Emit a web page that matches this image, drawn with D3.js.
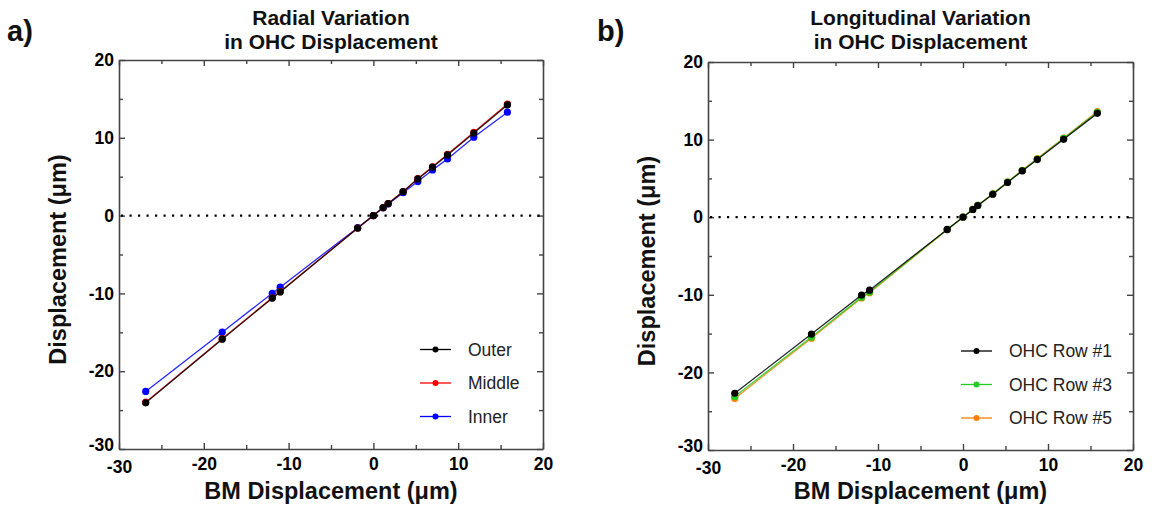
<!DOCTYPE html>
<html><head><meta charset="utf-8">
<script src="https://cdn.jsdelivr.net/npm/d3@7"></script>
<style>
body{margin:0;background:#fff;}
svg{display:block;font-family:"Liberation Sans",Arial,sans-serif;}
</style></head>
<body><svg id="c" width="1153" height="508"></svg>
<script>
const bmDisp = [-26.85, -17.83, -11.93, -10.99, -1.86, 0, 1.15, 1.74, 3.5, 5.24, 6.97, 8.74, 11.84, 15.8];
const outer  = [-24.07, -15.89, -10.62, -9.81, -1.62, 0, 1.03, 1.54, 3.08, 4.72, 6.22, 7.80, 10.62, 14.23];
const middle = [-23.98, -15.82, -10.56, -9.76, -1.60, 0, 1.03, 1.55, 3.10, 4.76, 6.28, 7.88, 10.70, 14.33];
const inner  = [-22.60, -14.99, -9.98, -9.20, -1.55, 0, 1.00, 1.50, 2.95, 4.37, 5.87, 7.29, 10.08, 13.29];
const row1 = [-22.69, -15.06, -10.04, -9.40, -1.58, 0, 0.99, 1.50, 2.96, 4.47, 5.96, 7.43, 10.04, 13.38];
const row3 = [-23.10, -15.45, -10.30, -9.65, -1.60, 0, 1.00, 1.52, 3.00, 4.52, 6.02, 7.50, 10.15, 13.52];
const row5 = [-23.35, -15.60, -10.40, -9.72, -1.62, 0, 1.01, 1.53, 3.02, 4.55, 6.05, 7.55, 10.20, 13.62];
const majorTicks = [-30, -20, -10, 0, 10, 20];
const minorTicks = [-25, -15, -5, 5, 15];
const titlesA = ["Radial Variation", "in OHC Displacement"];
const titlesB = ["Longitudinal Variation", "in OHC Displacement"];
const xLabel = "BM Displacement (\u03bcm)";
const yLabel = "Displacement (\u03bcm)";

const svg = d3.select("#c");
const fmt = d => String(d);

function panel(opt){
  const g = svg.append("g");
  const x = d3.scaleLinear().domain([-30,20]).range([opt.x0, opt.x1]);
  const y = d3.scaleLinear().domain([-30,20]).range([opt.y1, opt.y0]);
  const axCol = "#444";
  function styleAx(sel){
    sel.selectAll("path.domain").attr("stroke",axCol).attr("stroke-width",1.6);
    sel.selectAll(".tick line").attr("stroke",axCol).attr("stroke-width",1.4);
    sel.attr("font-family",null).attr("font-size",null);
    sel.selectAll(".tick text")
      .style("font-family","'Liberation Sans', Arial, sans-serif")
      .style("font-weight","700").style("font-size","17.5px").style("fill","#000");
  }
  const b = g.append("g").attr("transform",`translate(0,${opt.y1})`)
    .call(d3.axisBottom(x).tickValues(majorTicks).tickSize(-6).tickSizeOuter(0).tickPadding(9).tickFormat(fmt));
  styleAx(b);
  g.append("g").attr("transform",`translate(0,${opt.y1})`)
    .call(d3.axisBottom(x).tickValues(minorTicks).tickSize(-4).tickFormat("")).call(s=>{s.select(".domain").remove();styleAx(s);});
  const t = g.append("g").attr("transform",`translate(0,${opt.y0})`)
    .call(d3.axisTop(x).tickValues(majorTicks).tickSize(-6).tickSizeOuter(0).tickFormat(""));
  styleAx(t);
  g.append("g").attr("transform",`translate(0,${opt.y0})`)
    .call(d3.axisTop(x).tickValues(minorTicks).tickSize(-4).tickFormat("")).call(s=>{s.select(".domain").remove();styleAx(s);});
  const l = g.append("g").attr("transform",`translate(${opt.x0},0)`)
    .call(d3.axisLeft(y).tickValues(majorTicks).tickSize(-6).tickSizeOuter(0).tickPadding(5).tickFormat(fmt));
  styleAx(l);
  l.selectAll(".tick text").filter(d=>d===-30).attr("dy","0.1em");
  b.selectAll(".tick text").filter(d=>d===-30).attr("dy","0.85em");
  g.append("g").attr("transform",`translate(${opt.x0},0)`)
    .call(d3.axisLeft(y).tickValues(minorTicks).tickSize(-4).tickFormat("")).call(s=>{s.select(".domain").remove();styleAx(s);});
  const r = g.append("g").attr("transform",`translate(${opt.x1},0)`)
    .call(d3.axisRight(y).tickValues(majorTicks).tickSize(-6).tickSizeOuter(0).tickFormat(""));
  styleAx(r);
  g.append("g").attr("transform",`translate(${opt.x1},0)`)
    .call(d3.axisRight(y).tickValues(minorTicks).tickSize(-4).tickFormat("")).call(s=>{s.select(".domain").remove();styleAx(s);});

  g.append("line").attr("x1",x(-30)+2).attr("x2",x(20)-2).attr("y1",y(0)).attr("y2",y(0))
    .attr("stroke","#000").attr("stroke-width",2.2).attr("stroke-dasharray","2.2,6.3");

  const line = d3.line().x(d=>x(d[0])).y(d=>y(d[1]));
  opt.series.slice().reverse().forEach(s=>{
    const pts = bmDisp.map((v,i)=>[v,s.values[i]]);
    g.append("path").datum(pts).attr("d",line).attr("fill","none")
      .attr("stroke",s.color).attr("stroke-width",1.3).attr("stroke-opacity",0.85);
    g.append("g").selectAll("circle").data(pts).join("circle")
      .attr("cx",d=>x(d[0])).attr("cy",d=>y(d[1])).attr("r",3.6).attr("fill",s.color);
  });

  opt.series.forEach((s,i)=>{
    const ly = opt.legY + i*33.5;
    g.append("line").attr("x1",opt.legX).attr("x2",opt.legX+31).attr("y1",ly).attr("y2",ly)
      .attr("stroke",s.color).attr("stroke-width",1.3);
    g.append("circle").attr("cx",opt.legX+15.5).attr("cy",ly).attr("r",3).attr("fill",s.color);
    g.append("text").attr("x",opt.legX+48).attr("y",ly).attr("dy","0.36em")
      .attr("font-size",17.5).attr("fill","#222").text(s.name);
  });

  const cx = (opt.x0+opt.x1)/2;
  opt.titles.forEach((tt,i)=>{
    g.append("text").attr("x",cx).attr("y",25+i*24).attr("text-anchor","middle")
      .attr("font-size",21).attr("font-weight","bold").attr("fill","#111").text(tt);
  });
  g.append("text").attr("x",cx).attr("y",499).attr("text-anchor","middle")
    .attr("font-size",23.5).attr("font-weight","bold").attr("fill","#111").text(xLabel);
  g.append("text").attr("transform",`translate(${opt.x0-53},${(opt.y0+opt.y1)/2+5}) rotate(-90)`)
    .attr("text-anchor","middle").attr("font-size",23.5).attr("font-weight","bold").attr("fill","#111").text(yLabel);
  g.append("text").attr("x",opt.letterX).attr("y",41).attr("font-size",29).attr("font-weight","bold")
    .attr("fill","#111").text(opt.letter);
}

panel({x0:119,x1:543,y0:60,y1:449,legX:420,legY:349.5,titles:titlesA,letter:"a)",letterX:7,
  series:[{name:"Outer",values:outer,color:"#000000"},{name:"Middle",values:middle,color:"#ff0000"},{name:"Inner",values:inner,color:"#0000ff"}]});
panel({x0:708,x1:1133,y0:62,y1:450,legX:961,legY:351,titles:titlesB,letter:"b)",letterX:597,
  series:[{name:"OHC Row #1",values:row1,color:"#000000"},{name:"OHC Row #3",values:row3,color:"#22cc22"},{name:"OHC Row #5",values:row5,color:"#ff8000"}]});
</script></body></html>
